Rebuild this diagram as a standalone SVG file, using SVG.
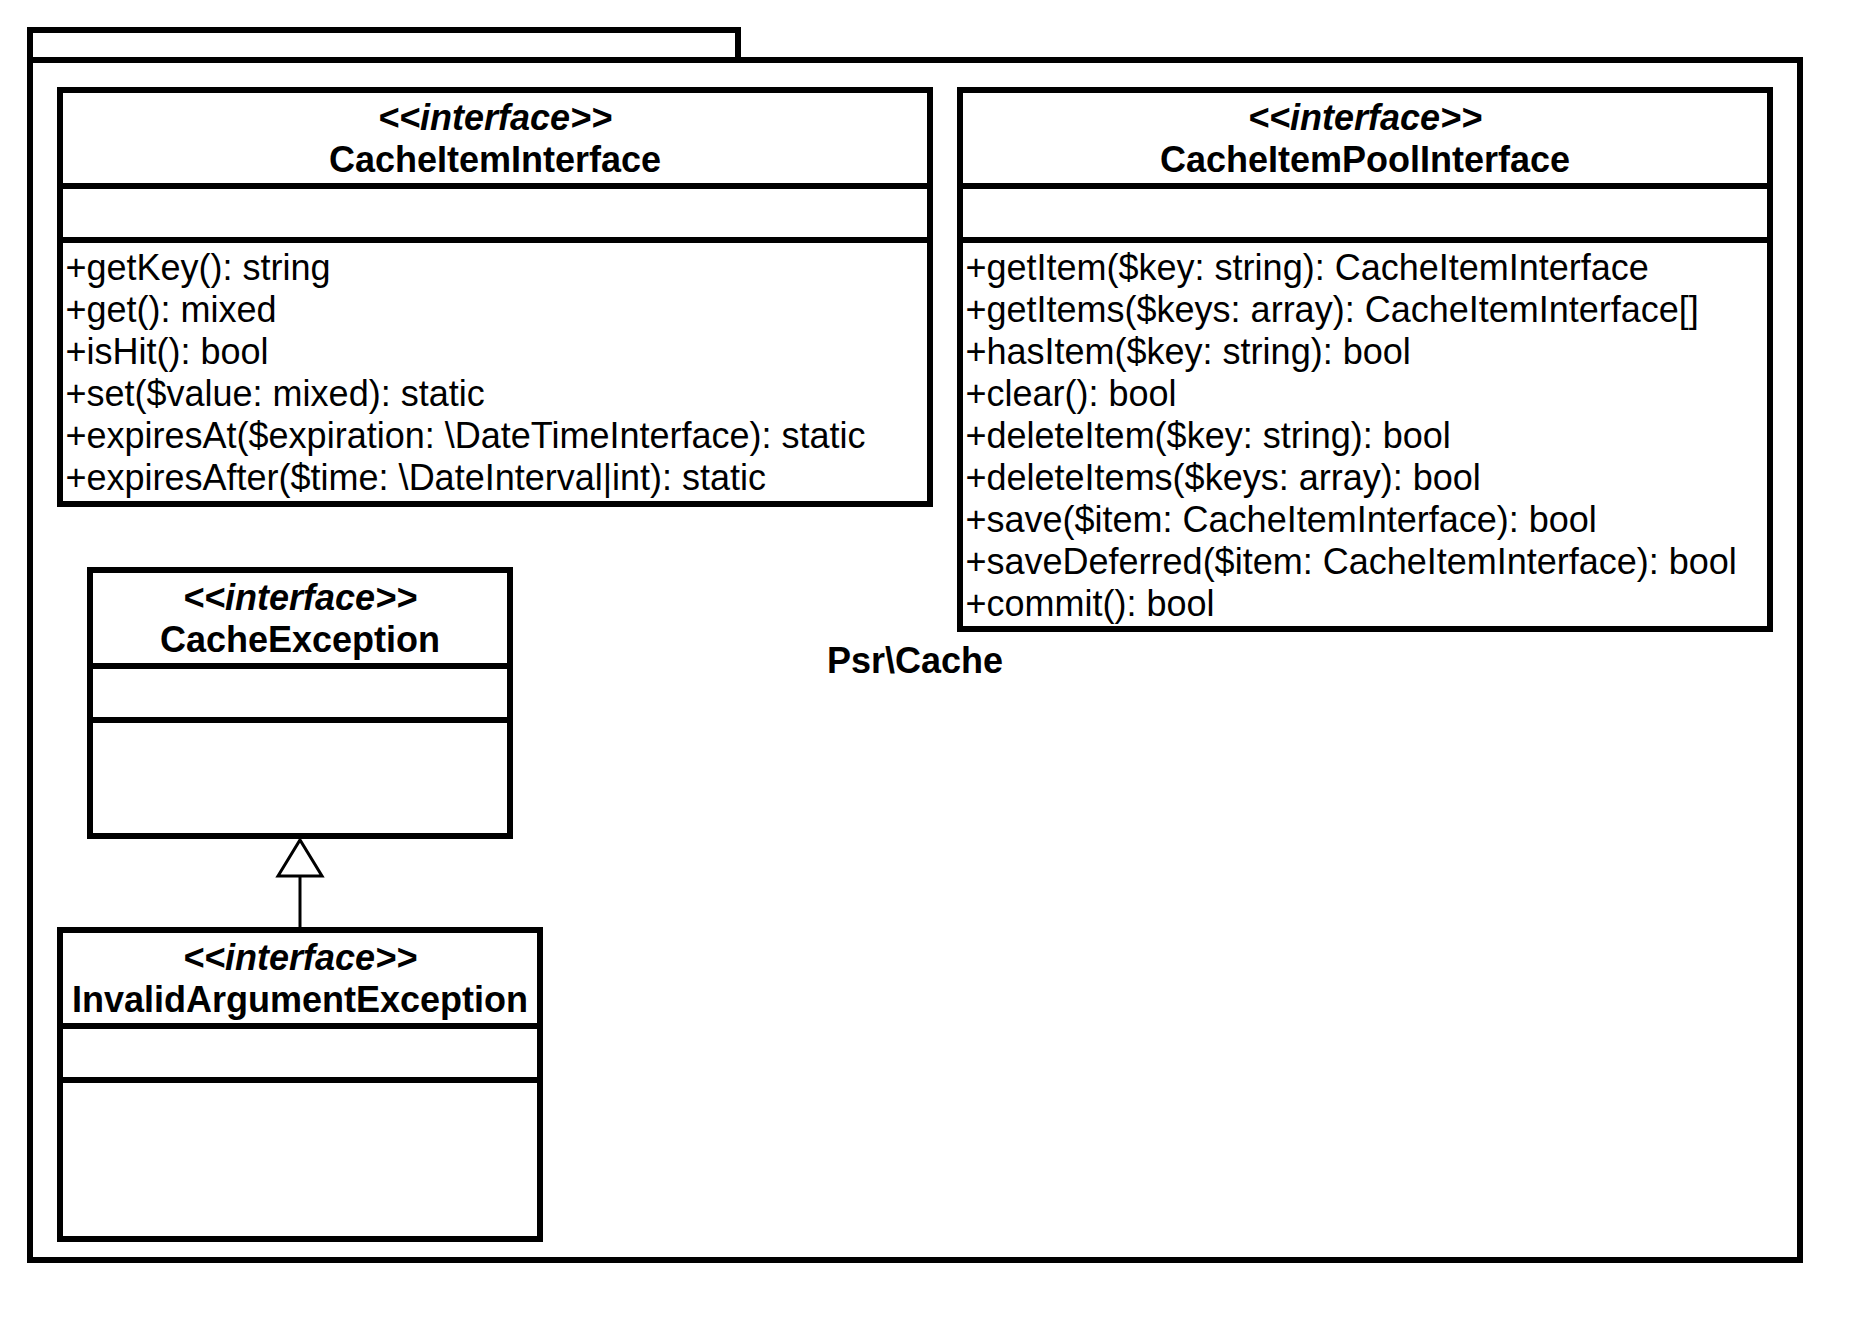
<svg xmlns="http://www.w3.org/2000/svg" width="1866" height="1319" viewBox="0 0 1866 1319">
  <style>
    .frame { fill: #ffffff; stroke: #000000; stroke-width: 6; }
    .div { stroke: #000000; stroke-width: 6; fill: none; }
    .stereo { font-family: "Liberation Sans", Arial, sans-serif; font-size: 36px; font-weight: bold; font-style: italic; text-anchor: middle; fill: #000; }
    .name { font-family: "Liberation Sans", Arial, sans-serif; font-size: 36px; font-weight: bold; text-anchor: middle; fill: #000; }
    .member { font-family: "Liberation Sans", Arial, sans-serif; font-size: 36px; fill: #000; }
    .edge { stroke: #000000; stroke-width: 3; fill: none; }
  </style>
  <defs>
    <marker id="inherit" markerUnits="userSpaceOnUse" markerWidth="40" markerHeight="50" viewBox="-2 -3 40 50" refX="0" refY="22" orient="auto" overflow="visible">
      <path d="M0,0 L36,22 L0,44 Z" fill="#ffffff" stroke="#000000" stroke-width="3" stroke-linejoin="miter"/>
    </marker>
  </defs>
  <rect width="1866" height="1319" fill="#ffffff"/>

  <g id="package-psr-cache">
    <rect class="frame" x="30" y="30" width="708" height="30"/>
    <rect class="frame" x="30" y="60" width="1770" height="1200"/>
    <text class="name" x="915" y="672.5">Psr\Cache</text>
  </g>

  <g id="node-cache-item-interface">
    <rect class="frame" x="60" y="90" width="870" height="414"/>
    <line class="div" x1="60" y1="186" x2="930" y2="186"/>
    <line class="div" x1="60" y1="240" x2="930" y2="240"/>
    <text class="stereo" x="495" y="129.5">&lt;&lt;interface&gt;&gt;</text>
    <text class="name" x="495" y="171.5">CacheItemInterface</text>
    <text class="member" x="65.5" y="280">+getKey(): string</text>
    <text class="member" x="65.5" y="322">+get(): mixed</text>
    <text class="member" x="65.5" y="364">+isHit(): bool</text>
    <text class="member" x="65.5" y="406">+set($value: mixed): static</text>
    <text class="member" x="65.5" y="448">+expiresAt($expiration: \DateTimeInterface): static</text>
    <text class="member" x="65.5" y="490">+expiresAfter($time: \DateInterval|int): static</text>
  </g>

  <g id="node-cache-item-pool-interface">
    <rect class="frame" x="960" y="90" width="810" height="539"/>
    <line class="div" x1="960" y1="186" x2="1770" y2="186"/>
    <line class="div" x1="960" y1="240" x2="1770" y2="240"/>
    <text class="stereo" x="1365" y="129.5">&lt;&lt;interface&gt;&gt;</text>
    <text class="name" x="1365" y="171.5">CacheItemPoolInterface</text>
    <text class="member" x="965.5" y="280">+getItem($key: string): CacheItemInterface</text>
    <text class="member" x="965.5" y="322">+getItems($keys: array): CacheItemInterface[]</text>
    <text class="member" x="965.5" y="364">+hasItem($key: string): bool</text>
    <text class="member" x="965.5" y="406">+clear(): bool</text>
    <text class="member" x="965.5" y="448">+deleteItem($key: string): bool</text>
    <text class="member" x="965.5" y="490">+deleteItems($keys: array): bool</text>
    <text class="member" x="965.5" y="532">+save($item: CacheItemInterface): bool</text>
    <text class="member" x="965.5" y="574">+saveDeferred($item: CacheItemInterface): bool</text>
    <text class="member" x="965.5" y="616">+commit(): bool</text>
  </g>

  <g id="node-cache-exception">
    <rect class="frame" x="90" y="570" width="420" height="266"/>
    <line class="div" x1="90" y1="666" x2="510" y2="666"/>
    <line class="div" x1="90" y1="720" x2="510" y2="720"/>
    <text class="stereo" x="300" y="609.5">&lt;&lt;interface&gt;&gt;</text>
    <text class="name" x="300" y="651.5">CacheException</text>
  </g>

  <g id="node-invalid-argument-exception">
    <rect class="frame" x="60" y="930" width="480" height="309"/>
    <line class="div" x1="60" y1="1026" x2="540" y2="1026"/>
    <line class="div" x1="60" y1="1080" x2="540" y2="1080"/>
    <text class="stereo" x="300" y="969.5">&lt;&lt;interface&gt;&gt;</text>
    <text class="name" x="300" y="1011.5">InvalidArgumentException</text>
  </g>

  <g id="connectors">
    <line class="edge" x1="300" y1="927" x2="300" y2="876" marker-end="url(#inherit)"/>
  </g>
</svg>
